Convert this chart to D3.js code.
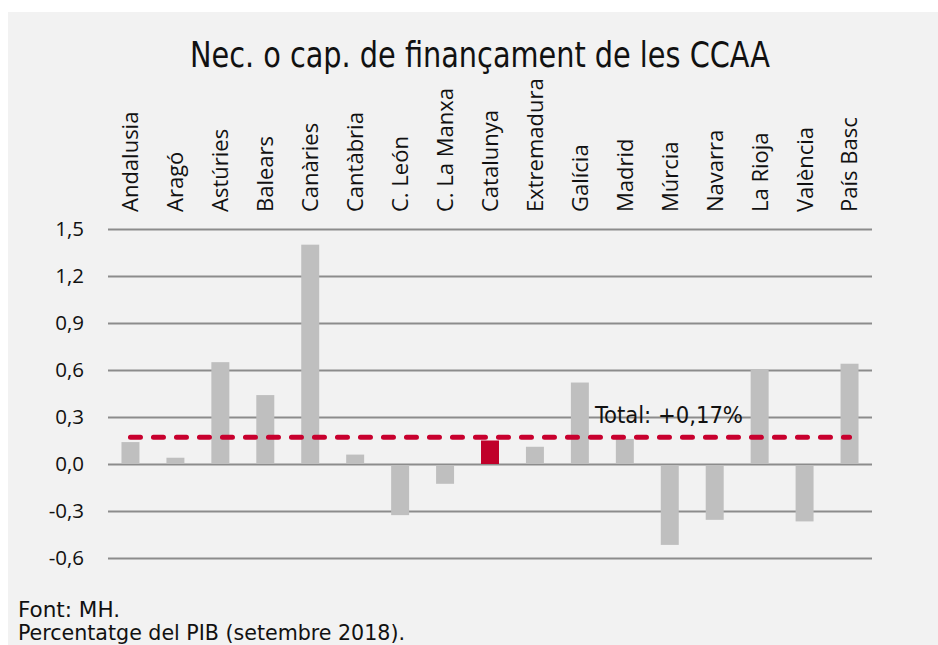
<!DOCTYPE html>
<html>
<head>
<meta charset="utf-8">
<script src="https://cdn.jsdelivr.net/npm/d3@7"></script>
<style>
  body { margin: 0; background: #fff; }
</style>
</head>
<body>
<script>
// Dades
const categories = ["Andalusia", "Aragó", "Astúries", "Balears", "Canàries", "Cantàbria",
  "C. León", "C. La Manxa", "Catalunya", "Extremadura", "Galícia", "Madrid",
  "Múrcia", "Navarra", "La Rioja", "València", "País Basc"];
const values = [0.14, 0.04, 0.65, 0.44, 1.40, 0.06, -0.32, -0.12, 0.15, 0.11,
  0.52, 0.16, -0.51, -0.35, 0.60, -0.36, 0.64];
const highlight = "Catalunya";
const totalValue = 0.17;
const totalLabel = "Total: +0,17%";
const yTicks = [1.5, 1.2, 0.9, 0.6, 0.3, 0.0, -0.3, -0.6];
const title = "Nec. o cap. de finançament de les CCAA";
const notes = ["Font: MH.", "Percentatge del PIB (setembre 2018)."];

const width = 938, height = 645;
const plot = { left: 108, right: 872, top: 229, bottom: 558 };
const condFont = "'DejaVu Sans', sans-serif";
const regFont = "'Open Sans', 'Noto Sans', sans-serif";

const svg = d3.select("body").append("svg")
  .attr("width", width)
  .attr("height", height);

// fons gris
svg.append("rect")
  .attr("x", 8).attr("y", 12)
  .attr("width", width - 8).attr("height", height - 12)
  .attr("fill", "#f2f2f2");

// escales
const x = d3.scaleBand()
  .domain(categories)
  .range([plot.left, plot.right])
  .paddingInner(0.6)
  .paddingOuter(0.3);

const y = d3.scaleLinear()
  .domain([-0.6, 1.5])
  .range([plot.bottom, plot.top]);

const fmt = v => d3.format(".1f")(v).replace(".", ",").replace("−", "-");

// línies de la graella
const yAxis = svg.append("g")
  .attr("transform", `translate(${plot.left},0)`)
  .call(d3.axisLeft(y).tickValues(yTicks).tickSize(-(plot.right - plot.left)).tickFormat(fmt));
yAxis.attr("font-family", null).attr("font-size", null);
yAxis.select(".domain").remove();
yAxis.selectAll(".tick line").attr("stroke", "#8c8c8c").attr("stroke-width", 2);
yAxis.selectAll(".tick text")
  .attr("x", -24)
  .attr("font-family", regFont)
  .attr("font-size", 20.5)
  .attr("fill", "#111");

// barres
svg.append("g").selectAll("rect")
  .data(categories)
  .enter()
  .append("rect")
  .attr("x", d => x(d))
  .attr("width", x.bandwidth())
  .attr("y", (d, i) => y(Math.max(0, values[i])) + (values[i] < 0 ? 1 : 0))
  .attr("height", (d, i) => Math.abs(y(values[i]) - y(0)))
  .attr("fill", d => d === highlight ? "#c0002a" : "#bfbfbf");

// etiquetes de categoria (verticals)
svg.append("g").selectAll("text")
  .data(categories)
  .enter()
  .append("text")
  .attr("transform", d => `translate(${x(d) + x.bandwidth() / 2},212) rotate(-90)`)
  .attr("dy", "0.36em")
  .attr("font-family", regFont)
  .attr("font-size", 22)
  .attr("fill", "#111")
  .text(d => d);

// línia del total
const first = categories[0], last = categories[categories.length - 1];
svg.append("line")
  .attr("x1", x(first) + x.bandwidth() / 2)
  .attr("x2", x(last) + x.bandwidth() / 2)
  .attr("y1", y(totalValue))
  .attr("y2", y(totalValue))
  .attr("stroke", "#c8002e")
  .attr("stroke-width", 5)
  .attr("stroke-linecap", "round")
  .attr("stroke-dasharray", "10 13");

// textos en lletra estreta
const cond = (txt, xx, yy, size, len) => svg.append("text")
  .attr("x", xx).attr("y", yy)
  .attr("font-family", condFont)
  .style("font-stretch", "condensed")
  .attr("font-size", size)
  .attr("textLength", len)
  .attr("lengthAdjust", "spacingAndGlyphs")
  .attr("fill", "#111")
  .text(txt);

cond(totalLabel, 595, y(totalValue) - 14, 23, 148);
cond(title, 190, 67, 35, 580);
cond(notes[0], 18, 617, 22, 102);
cond(notes[1], 18, 640, 22, 387);
</script>
</body>
</html>
